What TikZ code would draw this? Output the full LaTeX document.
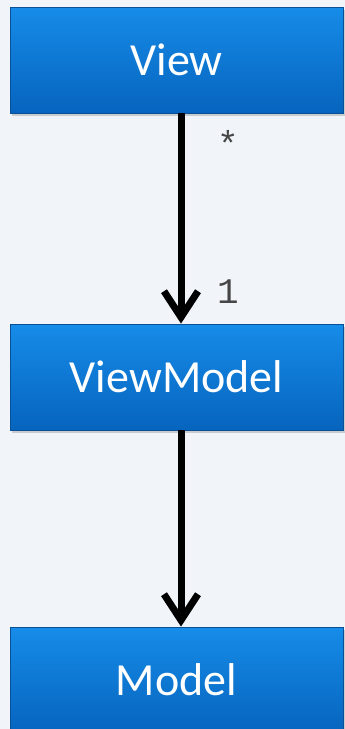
\documentclass[tikz,border=0pt]{standalone}
\usepackage{fontspec}
\setmainfont{Carlito}
\newfontfamily\labelmono{Liberation Mono}
\usepackage{tikz}
\usetikzlibrary{arrows.meta,shadows}
\definecolor{pagebg}{RGB}{241, 245, 249}
\definecolor{boxtop}{RGB}{22, 140, 232}
\definecolor{boxbottom}{RGB}{6, 100, 190}
\definecolor{boxedge}{RGB}{10, 80, 150}
\definecolor{multgray}{RGB}{70, 70, 70}

\begin{document}
\begin{tikzpicture}[x=1pt, y=1pt,
    layer/.style={rectangle, draw=boxedge, line width=0.8pt,
                  top color=boxtop, bottom color=boxbottom,
                  minimum width=333pt, minimum height=106pt,
                  inner sep=0pt, text=white,
                  font=\fontsize{46}{50}\selectfont,
                  drop shadow={shadow xshift=1.5pt, shadow yshift=-2.5pt,
                               opacity=.35}},
    uses/.style={-{Straight Barb[length=26pt, width=34pt]},
                 line width=7pt, black},
    mult/.style={anchor=center, text=multgray,
                 font=\labelmono\fontsize{36}{38}\selectfont}]

    \useasboundingbox[fill=pagebg] (0,0) rectangle (345,-729);

    % Layers
    \node[layer] (view)  at (176.5, -60)  {View};
    \node[layer] (vmodel) at (176.5, -377) {ViewModel};
    \node[layer] (model) at (176.5, -680) {Model};

    % Associations
    \draw[uses] ([xshift=4.5pt]view.south) -- ([xshift=4.5pt]vmodel.north)
        node[mult, pos=0.13, xshift=47pt, yshift=-3pt] {*}
        node[mult, pos=0.85, xshift=47pt] {1};
    \draw[uses] ([xshift=4.5pt]vmodel.south) -- ([xshift=4.5pt]model.north);
\end{tikzpicture}
\end{document}
